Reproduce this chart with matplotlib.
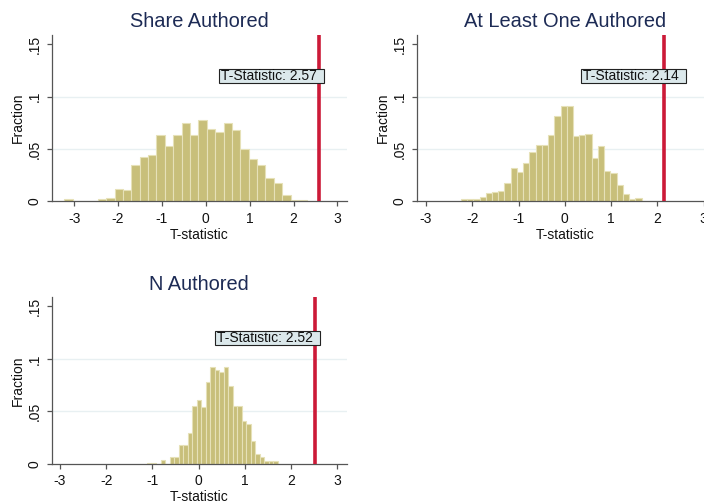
import matplotlib
matplotlib.use('Agg')
import matplotlib.pyplot as plt
import matplotlib.transforms as mtransforms
from matplotlib.patches import Rectangle
import numpy as np

plt.rcParams['font.family'] = ['Liberation Sans', 'DejaVu Sans']

titles = ["Share Authored", "At Least One Authored", "N Authored"]
t_stats = [2.57, 2.14, 2.52]
bin_starts = [-3.225, -2.247, -1.12]
bin_widths = [0.191, 0.1346, 0.0977]

share_fracs = [0.002, 0, 0, 0, 0.002, 0.0035, 0.012, 0.011, 0.035, 0.0426,
               0.044, 0.0636, 0.053, 0.063, 0.075, 0.0636, 0.078, 0.069, 0.0658,
               0.0744, 0.068, 0.050, 0.0404, 0.0347, 0.0223, 0.0178, 0.0057,
               0.0015, 0.0015]
atleast_fracs = [0.0022, 0.0018, 0.002, 0.0038, 0.0079, 0.0092, 0.0095, 0.0177,
                 0.032, 0.028, 0.0367, 0.0468, 0.0537, 0.0537, 0.0636, 0.081,
                 0.091, 0.091, 0.062, 0.063, 0.064, 0.041, 0.0525, 0.0288, 0.027,
                 0.0158, 0.007, 0.0022, 0.003]
n_fracs = [0.001, 0.001, 0, 0.0035, 0, 0.0063, 0.0063, 0.0175, 0.0175, 0.029,
           0.055, 0.061, 0.054, 0.078, 0.092, 0.089, 0.087, 0.092, 0.074, 0.055,
           0.055, 0.041, 0.038, 0.022, 0.0095, 0.0063, 0.0022, 0.003, 0.003]

x_ticks = [-3, -2, -1, 0, 1, 2, 3]
y_ticks = [0, 0.05, 0.1, 0.15]
y_ticklabels = ["0", ".05", ".1", ".15"]
label_x, label_y = 1.5, 0.12

W, H = 704, 504
fig = plt.figure(figsize=(W / 100, H / 100), dpi=100)
fig.patch.set_facecolor('white')

# axes boxes in pixels: left, right, top, bottom
boxes = [(51.7, 346.7, 35, 201.3), (416.7, 713.0, 35, 201.3), (51.7, 346.7, 297.3, 463.7)]
xlims = [(-3.51, 3.21), (-3.2, 3.2), (-3.18, 3.2)]
data = [share_fracs, atleast_fracs, n_fracs]

bar_color = '#c8bf7a'
edge_color = '#e6e1b8'
red = '#cc1a38'
navy = '#1d2b55'
axis_col = '#555555'
fs = 10

for k in range(3):
    l, r, t, b = boxes[k]
    ax = fig.add_axes([l / W, 1 - b / H, (r - l) / W, (b - t) / H])
    ax.set_facecolor('white')
    ax.set_xlim(*xlims[k])
    ax.set_ylim(0, 0.1587)
    heights = data[k]
    edges = bin_starts[k] + bin_widths[k] * np.arange(len(heights) + 1)
    ax.bar(edges[:-1], heights, width=bin_widths[k], align='edge',
           color=bar_color, edgecolor=edge_color, linewidth=0.8, zorder=2)
    ax.axvline(t_stats[k], color=red, linewidth=2.6, zorder=3)
    for gy in [0.05, 0.1]:
        ax.axhline(gy, color='#e8f0f2', linewidth=1.0, zorder=1)
    anchor = fig.dpi_scale_trans + mtransforms.ScaledTranslation(label_x, label_y, ax.transData)
    ax.add_patch(Rectangle((-0.53, -0.07), 1.05, 0.14, transform=anchor,
                           facecolor='#dbe8eb', edgecolor='#222222',
                           linewidth=0.8, zorder=4, clip_on=False))
    ax.text(-0.51, 0.0, "T-Statistic: %.2f" % t_stats[k], transform=anchor,
            ha='left', va='center', fontsize=fs, color='#111111', zorder=5)
    ax.set_xticks(x_ticks)
    ax.set_xticklabels([str(v) for v in x_ticks])
    ax.set_yticks(y_ticks)
    ax.set_yticklabels(y_ticklabels, rotation=90, va='center')
    for s in ['top', 'right']:
        ax.spines[s].set_visible(False)
    for s in ['left', 'bottom']:
        ax.spines[s].set_color(axis_col)
        ax.spines[s].set_linewidth(0.9)
    ax.tick_params(axis='both', length=3.5, width=0.9, color=axis_col,
                   labelsize=fs, labelcolor='#111111', pad=4)
    ax.set_xlabel("T-statistic", fontsize=fs, color='#111111', labelpad=1.5)
    ax.set_ylabel("Fraction", fontsize=fs, color='#111111', labelpad=1.5)
    ax.set_title(titles[k], fontsize=14.4, color=navy, pad=5.5)

fig.savefig('out.png', dpi=100, facecolor='white')
